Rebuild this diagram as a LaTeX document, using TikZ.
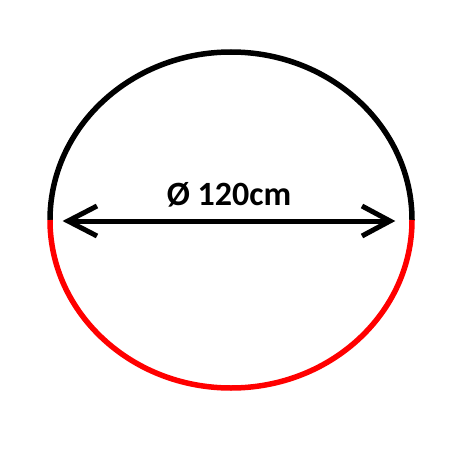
\documentclass[tikz,border=0pt]{standalone}
\usepackage{fontspec}
\setmainfont{Carlito}
\begin{document}
\begin{tikzpicture}[x=1pt,y=-1pt,
  ring/.style={line width=5.5pt, line cap=butt},
  dimline/.style={line width=5pt, line cap=butt, line join=miter},
  label/.style={font=\bfseries\fontsize{34}{40}\selectfont, inner sep=0pt}]
\useasboundingbox (0,0) rectangle (460,460);
\coordinate (L) at (50,220);
\coordinate (R) at (412,220);
\draw[ring, black] (L) arc[start angle=180, end angle=360, x radius=181, y radius=168];
\draw[ring, red] (R) arc[start angle=0, end angle=180, x radius=181, y radius=168];
\coordinate (tipL) at (68,221);
\coordinate (tipR) at (390,221);
\draw[dimline] (tipL) -- (tipR);
\draw[dimline] (97,206) -- (tipL) -- (97,236);
\draw[dimline] (362,206) -- (tipR) -- (362,236);
\node[label, anchor=base] (t) at (229,205) {Ø 120cm};
\end{tikzpicture}
\end{document}
